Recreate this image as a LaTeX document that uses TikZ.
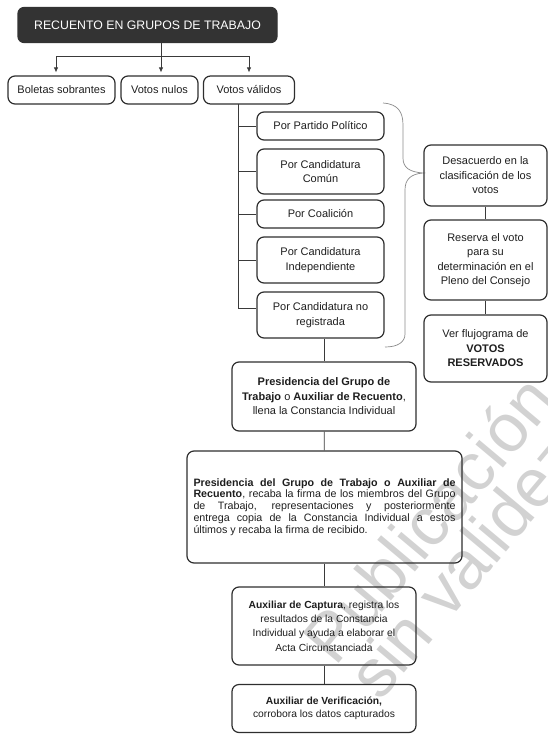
\documentclass[tikz,border=0pt]{standalone}
\usepackage{fontspec}
\setmainfont{Liberation Sans}
\usetikzlibrary{arrows.meta,calc}
\definecolor{boxc}{HTML}{2E2E2E}
\definecolor{txt}{HTML}{1E1E1E}
\definecolor{linec}{HTML}{3A3A3A}
\definecolor{wm}{HTML}{D2D2D2}
\definecolor{bracec}{HTML}{8A8A8A}
\definecolor{titlefill}{HTML}{333333}
\begin{document}
\begin{tikzpicture}[x=1pt,y=-1pt,
  box/.style={draw=boxc, line width=1.2pt, rounded corners=7pt, align=center, text=txt, inner sep=2pt, font=\fontsize{11}{14.5}\selectfont},
  smallbox/.style={box, font=\fontsize{10.3}{14.3}\selectfont},
  conn/.style={draw=linec, line width=0.7pt},
  tipped/.style={-{Latex[length=5pt,width=4.5pt]}, shorten >=3pt},
  wmark/.style={text=wm, rotate=50, anchor=base west, font=\fontsize{68}{68}\selectfont, inner sep=0pt}]
\useasboundingbox (0,0) rectangle (548,734);
% watermark
\node[wmark] (wm1) at (335,668) {Publicación};
\node[wmark] (wm2) at (380,703) {sin validez};
% title and first level
\node[box, fill=titlefill, draw=titlefill, text=white, minimum width=259pt, minimum height=35pt, rounded corners=6pt, font=\fontsize{12.3}{14}\selectfont] (title) at (147.5,25) {RECUENTO EN GRUPOS DE TRABAJO};
\node[box, minimum width=107pt, minimum height=28pt] (bol) at (61.5,90) {Boletas sobrantes};
\node[box, minimum width=77pt, minimum height=28pt] (nul) at (159.5,90) {Votos nulos};
\node[box, minimum width=91pt, minimum height=28pt] (val) at (249,90) {Votos válidos};
\coordinate (split) at (161,56);
\draw[conn] (split |- title.south) -- (split);
\draw[conn, tipped] (split) -| ([xshift=-5.5pt]bol.north);
\draw[conn, tipped] (split) -- (split |- nul.north);
\draw[conn, tipped] (split) -| (val.north);
% sub boxes
\node[box, minimum width=127pt, minimum height=28pt] (p1) at (320.5,126) {Por Partido Político};
\node[box, minimum width=127pt, minimum height=45pt] (p2) at (320.5,171.5) {Por Candidatura\\Común};
\node[box, minimum width=127pt, minimum height=28pt] (p3) at (320.5,214) {Por Coalición};
\node[box, minimum width=127pt, minimum height=46pt] (p4) at (320.5,260) {Por Candidatura\\Independiente};
\node[box, minimum width=127pt, minimum height=46pt] (p5) at (320.5,315) {Por Candidatura no\\registrada};
\coordinate (tr) at (238,104);
\draw[conn] (tr) |- ([yshift=7pt]p5.west);
\draw[conn] (tr |- p1.west) -- (p1.west);
\draw[conn] (tr |- p2.west) -- (p2.west);
\draw[conn] (tr |- p3.west) -- (p3.west);
\draw[conn] (tr |- p4.west) -- (p4.west);
% brace
\draw[draw=bracec, line width=0.7pt] (383,103) .. controls (398,104) and (403,112) .. (403,125) -- (403,158) .. controls (403,168) and (410,172) .. (423,173) .. controls (410,174) and (405,180) .. (405,190) -- (405,334) .. controls (405,342) and (398,347) .. (385,347);
% right column
\node[box, minimum width=123pt, minimum height=61pt] (d1) at (485.5,175.5) {Desacuerdo en la\\clasificación de los\\votos};
\node[box, minimum width=123pt, minimum height=80pt] (d2) at (485.5,260) {Reserva el voto\\para su\\determinación en el\\Pleno del Consejo};
\node[box, minimum width=123pt, minimum height=67pt] (d3) at (485.5,348.5) {Ver flujograma de\\\textbf{VOTOS}\\\textbf{RESERVADOS}};
\draw[conn] (d1) -- (d2);
\draw[conn] (d2) -- (d3);
% lower chain
\node[box, minimum width=184pt, minimum height=69pt] (b1) at (324,396.5) {\textbf{Presidencia del Grupo de}\\\textbf{Trabajo} o \textbf{Auxiliar de Recuento},\\llena la Constancia Individual};
\node[box, minimum width=275pt, minimum height=112pt, text width=262pt, align=justify, font=\fontsize{10.7}{11.8}\selectfont] (b2) at (324.5,507) {\textbf{Presidencia del Grupo de Trabajo o Auxiliar de}\linebreak \textbf{Recuento}, recaba la firma de los miembros del Grupo\linebreak de Trabajo, representaciones y posteriormente\linebreak entrega copia de la Constancia Individual a estos\linebreak últimos y recaba la firma de recibido.};
\node[smallbox, minimum width=184pt, minimum height=78pt] (b3) at (324,626) {\textbf{Auxiliar de Captura}, registra los\\resultados de la Constancia\\Individual y ayuda a elaborar el\\Acta Circunstanciada};
\node[smallbox, minimum width=184pt, minimum height=48pt, font=\fontsize{10.3}{13.3}\selectfont] (b4) at (324,708.5) {\textbf{Auxiliar de Verificación,}\\corrobora los datos capturados};
\draw[conn] (b1.north |- p5.south) -- (b1.north);
\draw[conn] (b1) -- (b2);
\draw[conn] (b2.south -| b3.north) -- (b3.north);
\draw[conn] (b3) -- (b4);
\end{tikzpicture}
\end{document}
